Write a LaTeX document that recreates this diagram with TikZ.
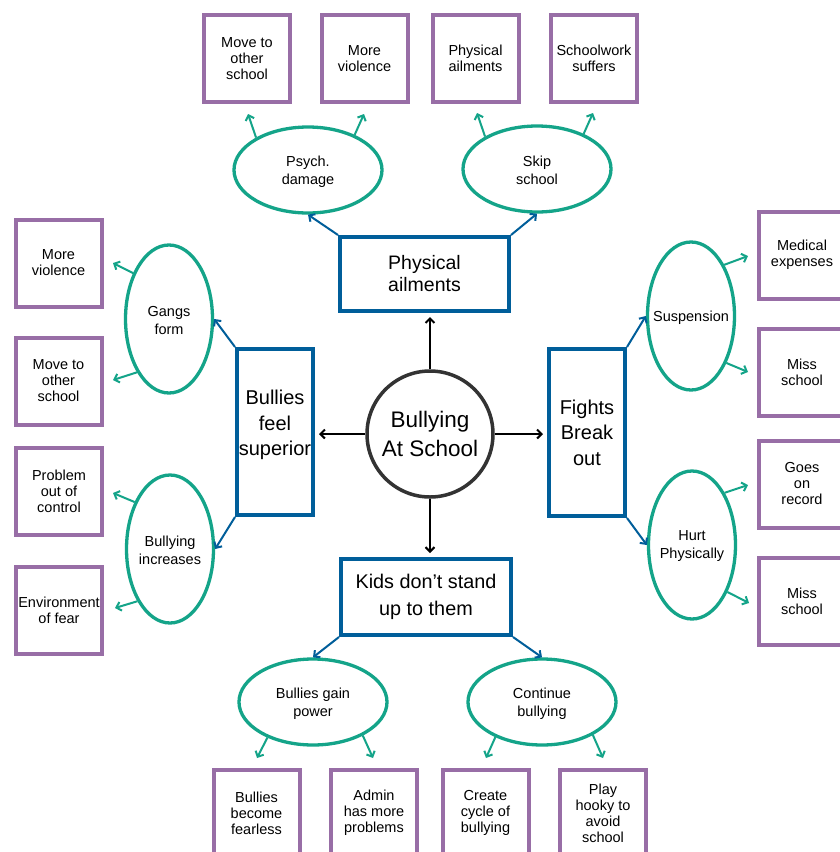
\documentclass[tikz,border=0pt]{standalone}
\usepackage{fontspec}
\setmainfont{Liberation Sans}
\usetikzlibrary{arrows.meta,shapes.geometric}
\definecolor{cblue}{RGB}{0,94,154}
\definecolor{cgreen}{RGB}{20,164,137}
\definecolor{cpurple}{RGB}{152,110,166}
\definecolor{cdark}{RGB}{51,51,51}
\begin{document}
\begin{tikzpicture}[x=1pt,y=-1pt,
  tipend/.style={-{Straight Barb[length=4.5pt,width=9pt]}},
  blackarrow/.style={tipend, draw=black, line width=2pt, shorten >=4pt},
  bluearrow/.style={tipend, draw=cblue, line width=2pt},
  greenarrow/.style={tipend, draw=cgreen, line width=2pt},
  bluebox/.style={draw=cblue, line width=4pt, fill=white, inner sep=0pt, align=center},
  btxt/.style={align=center, inner sep=0pt},
  pbox/.style={draw=cpurple, line width=4pt, fill=white, inner sep=0pt, minimum width=86pt, minimum height=87pt, align=center, font=\fontsize{14.5}{16}\selectfont},
  gell/.style={ellipse, draw=cgreen, line width=3.3pt, fill=white, inner sep=0pt},
  hell/.style={gell, minimum width=148pt, minimum height=86pt},
  vell/.style={gell, minimum width=87pt, minimum height=148pt},
  etxt/.style={align=center, inner sep=0pt, font=\fontsize{14.5}{18}\selectfont, yshift=-1.5pt},
]
\useasboundingbox (0,0) rectangle (840,852);
\fill[white] (0,0) rectangle (840,852);
\clip (0,0) rectangle (840,852);

% centre
\node[circle, draw=cdark, line width=3.5pt, minimum size=126pt, inner sep=0pt, align=center,
      font=\fontsize{22.5}{29}\selectfont] (core) at (430,434) {Bullying\\At School};

% blue boxes
\node[bluebox, minimum width=169pt, minimum height=74pt, font=\fontsize{19.5}{22}\selectfont] (phys) at (424.5,274) {Physical\\ailments};
\node[bluebox, minimum width=76pt, minimum height=166pt,
      label={[btxt, font=\fontsize{20}{25.5}\selectfont, yshift=7pt]center:{Bullies\\feel\\superior}}] (bfs) at (275,432) {};
\node[bluebox, minimum width=76pt, minimum height=167pt, font=\fontsize{20}{25.5}\selectfont] (fbo) at (587,432.5) {Fights\\Break\\out};
\node[bluebox, minimum width=170pt, minimum height=76pt, font=\fontsize{19.8}{26.5}\selectfont] (kids) at (426,597) {Kids don’t stand\\up to them};

% ellipses
\node[hell, label={[etxt]center:{Psych.\\damage}}] (psych) at (308,170) {};
\node[hell, label={[etxt]center:{Skip\\school}}] (skip) at (537,169) {};
\node[vell, label={[etxt]center:{Gangs\\form}}] (gangs) at (169,319) {};
\node[vell, label={[etxt]center:{Bullying\\increases}}] (binc) at (170,549) {};
\node[vell, label={[etxt]center:{Suspension}}] (susp) at (691,316) {};
\node[vell, label={[etxt]center:{Hurt\\Physically}}] (hurt) at (692,545) {};
\node[hell, label={[etxt]center:{Bullies gain\\power}}] (bgp) at (313,702) {};
\node[hell, label={[etxt]center:{Continue\\bullying}}] (cont) at (542,702) {};

% purple boxes top
\node[pbox] (mts1) at (247,58.5) {Move to\\other\\school};
\node[pbox] (mv1) at (364.5,58.5) {More\\violence};
\node[pbox] (pa) at (475.5,58.5) {Physical\\ailments};
\node[pbox] (sws) at (594,58.5) {Schoolwork\\suffers};
% left
\node[pbox] (mv2) at (58.5,263) {More\\violence};
\node[pbox] (mts2) at (58.5,381) {Move to\\other\\school};
\node[pbox] (pooc) at (59,491.5) {Problem\\out of\\control};
\node[pbox] (eof) at (59,610) {Environment\\of fear};
% right
\node[pbox] (med) at (802,255) {Medical\\expenses};
\node[pbox] (miss1) at (802,372.5) {Miss\\school};
\node[pbox] (gor) at (802,484) {Goes\\on\\record};
\node[pbox] (miss2) at (802,601.5) {Miss\\school};
% bottom
\node[pbox] (bbf) at (256.5,813) {Bullies\\become\\fearless};
\node[pbox] (ahm) at (374,813) {Admin\\has more\\problems};
\node[pbox] (ccb) at (485.5,813) {Create\\cycle of\\bullying};
\node[pbox] (phta) at (603,813) {Play\\hooky to\\avoid\\school};

% black arrows
\draw[blackarrow] (core.north) -- (core.north |- phys.south);
\draw[blackarrow] (core.west) -- (core.west -| bfs.east);
\draw[blackarrow] (core.east) -- (core.east -| fbo.west);
\draw[blackarrow] (core.south) -- (core.south |- kids.north);

% blue arrows
\draw[bluearrow] (phys.north west) -- (psych.south);
\draw[bluearrow] (phys.north east) -- (skip.south);
\draw[bluearrow] (bfs.north west) -- (gangs.east);
\draw[bluearrow] (bfs.south west) -- (binc.east);
\draw[bluearrow] (fbo.north east) -- (susp.west);
\draw[bluearrow] (fbo.south east) -- (hurt.west);
\draw[bluearrow] (kids.south west) -- (bgp.north);
\draw[bluearrow] (kids.south east) -- (cont.north);

% green arrow ends
\coordinate (g1) at (248,114);
\coordinate (g2) at (364,114);
\coordinate (g3) at (477,113);
\coordinate (g4) at (593,113);
\coordinate (g5) at (113,263);
\coordinate (g6) at (113,380);
\coordinate (g7) at (113,493);
\coordinate (g8) at (115,608);
\coordinate (g9) at (748,256);
\coordinate (g10) at (748,372);
\coordinate (g11) at (748,485);
\coordinate (g12) at (749,603);
\coordinate (g13) at (257,758);
\coordinate (g14) at (373,758);
\coordinate (g15) at (486,758);
\coordinate (g16) at (603,758);

\draw[greenarrow] (psych.148) -- (g1);
\draw[greenarrow] (psych.37) -- (g2);
\draw[greenarrow] (skip.148) -- (g3);
\draw[greenarrow] (skip.37) -- (g4);
\draw[greenarrow] (gangs.128) -- (g5);
\draw[greenarrow] (gangs.239) -- (g6);
\draw[greenarrow] (binc.127) -- (g7);
\draw[greenarrow] (binc.238) -- (g8);
\draw[greenarrow] (susp.57) -- (g9);
\draw[greenarrow] (susp.307) -- (g10);
\draw[greenarrow] (hurt.58) -- (g11);
\draw[greenarrow] (hurt.307) -- (g12);
\draw[greenarrow] (bgp.218) -- (g13);
\draw[greenarrow] (bgp.326) -- (g14);
\draw[greenarrow] (cont.217) -- (g15);
\draw[greenarrow] (cont.327) -- (g16);
\end{tikzpicture}
\end{document}
